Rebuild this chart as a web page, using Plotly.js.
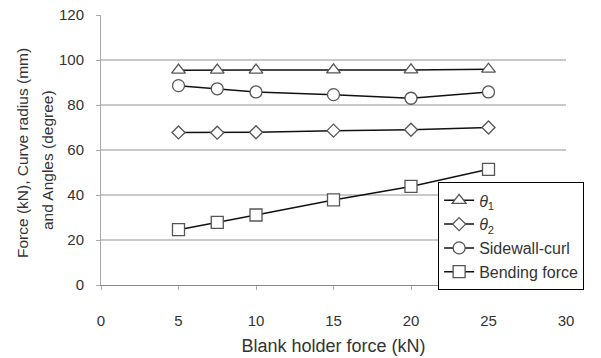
<!DOCTYPE html>
<html>
<head>
<meta charset="utf-8">
<script src="https://cdn.plot.ly/plotly-3.0.1.min.js"></script>
<style>html,body{margin:0;padding:0;background:#fff;}#chart{width:601px;height:358px;}</style>
</head>
<body>
<div id="chart"></div>
<script>
const blankHolderForce = [5, 7.5, 10, 15, 20, 25];
const theta1 = [95.5, 95.5, 95.5, 95.6, 95.6, 95.9];
const theta2 = [67.8, 67.7, 67.9, 68.6, 69.0, 70.0];
const sidewallCurl = [88.6, 87.2, 85.8, 84.6, 83.0, 85.8];
const bendingForce = [24.6, 27.8, 31.1, 37.8, 43.8, 51.4];
const seriesNames = ['<i>θ</i><sub>1</sub>', '<i>θ</i><sub>2</sub>', 'Sidewall-curl', 'Bending force'];
const xTicks = [0, 5, 10, 15, 20, 25, 30];
const yTicks = [0, 20, 40, 60, 80, 100, 120];
const yTitleLines = ['Force (kN), Curve radius (mm)', 'and Angles (degree)'];

const symbols = ['triangle-up', 'diamond', 'circle', 'square'];
const sizes = [12, 10, 12, 12];
const data = [theta1, theta2, sidewallCurl, bendingForce].map((y, i) => ({
  x: blankHolderForce, y: y, name: seriesNames[i], type: 'scatter', mode: 'lines+markers',
  line: {color: '#111', width: 1.5},
  marker: {symbol: symbols[i], size: sizes[i], color: '#fff', line: {color: '#555', width: 1.3}}
}));

const plotW = 601 - 101 - 35;
const plotH = 358 - 15 - 73;
const titlePos = [[22, 153], [48, 160]];

const layout = {
  width: 601, height: 358,
  margin: {l: 101, r: 35, t: 15, b: 73},
  paper_bgcolor: '#fff', plot_bgcolor: '#fff',
  font: {family: 'Liberation Sans, Arial, sans-serif', size: 15, color: '#333'},
  showlegend: true,
  legend: {x: 0.725, y: 0.38, xanchor: 'left', yanchor: 'top', bordercolor: '#000', borderwidth: 1,
           bgcolor: '#fff', font: {size: 16, color: '#333'}, itemwidth: 30},
  xaxis: {range: [0, 30], tickvals: xTicks, ticktext: xTicks.map(String), showgrid: false, zeroline: false,
          showline: true, linecolor: '#888', linewidth: 1, ticks: 'outside', ticklen: 4, tickcolor: '#aaa',
          ticklabelstandoff: 18,
          title: {text: 'Blank holder force (kN)', font: {size: 18, color: '#333'}, standoff: 11}},
  yaxis: {range: [0, 120], tickvals: yTicks, ticktext: yTicks.map(String), showgrid: true, gridcolor: '#c8c8c8', gridwidth: 1.5,
          zeroline: false, showline: true, linecolor: '#aaa', linewidth: 1, ticks: 'outside', ticklen: 4, tickcolor: '#aaa',
          ticklabelstandoff: 9},
  annotations: yTitleLines.map((t, i) => ({
    text: t, textangle: -90, xref: 'paper', yref: 'paper',
    x: (titlePos[i][0] - 101) / plotW, y: (285 - titlePos[i][1]) / plotH,
    showarrow: false, font: {size: 15.5, color: '#333'}, xanchor: 'center', yanchor: 'middle'
  }))
};
Plotly.newPlot('chart', data, layout, {displayModeBar: false, staticPlot: true});
</script>
</body>
</html>
